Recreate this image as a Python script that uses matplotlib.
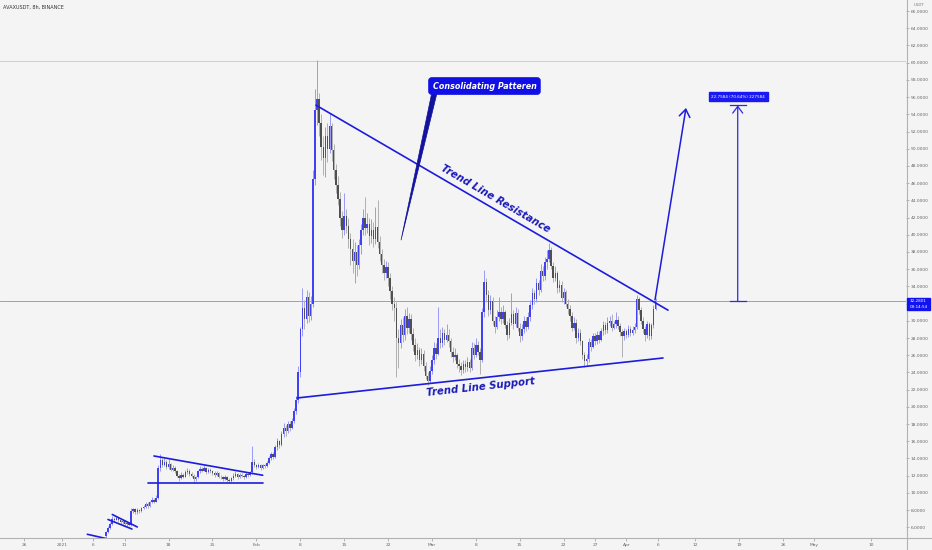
import matplotlib
matplotlib.use('Agg')
import matplotlib.pyplot as plt
from matplotlib.lines import Line2D
from matplotlib.patches import Polygon, Rectangle
import numpy as np

# ---------------- data ----------------
title = "AVAXUSDT, 8h, BINANCE"
first_day = 7.0          # days since 2021-01-01 of the first 8h candle
bar_days = 1 / 3
first_open = 5.0

closes = [
    5.4, 5.9, 6.4, 7.0, 6.9, 7.1, 6.8, 6.6, 6.7, 6.4,
    6.5, 6.3, 7.9, 8.1, 7.8, 8.0, 7.9, 8.2, 8.4, 8.7,
    8.5, 8.9, 9.2, 9.0, 9.4, 12.9, 13.8, 13.3, 13.6, 13.0,
    13.4, 12.7, 12.9, 12.5, 12.0, 11.7, 12.1, 11.9, 12.4, 12.6,
    12.2, 12.0, 11.6, 11.8, 12.5, 12.8, 12.6, 12.9, 12.4, 12.7,
    12.5, 12.3, 12.1, 12.3, 11.9, 11.8, 11.6, 11.9, 11.5, 11.4,
    11.7, 12.0, 12.2, 11.8, 12.1, 12.0, 11.8, 12.2, 12.1, 12.4,
    13.6, 13.2, 13.0, 13.3, 12.9, 13.2, 13.1, 13.5, 14.0, 14.5,
    14.2, 15.3, 16.0, 15.6, 16.8, 17.6, 17.2, 18.0, 17.6, 18.4,
    19.5, 20.8, 24.0, 29.0, 31.5, 30.2, 32.8, 30.6, 32.0, 46.5,
    54.5, 55.8, 53.0, 50.2, 48.9, 51.5, 50.0, 52.6, 49.8, 47.5,
    45.8, 44.2, 42.0, 40.6, 42.2, 41.0, 39.5, 38.4, 37.0, 38.0,
    36.5, 38.8, 40.5, 42.0, 40.8, 41.3, 39.8, 40.6, 39.5, 40.9,
    39.2, 37.8, 36.5, 35.6, 36.2, 35.0, 33.5, 32.0, 31.5, 28.0,
    27.4, 29.5, 28.3, 30.6, 29.2, 30.2, 28.5, 27.2, 26.0, 26.6,
    25.5, 26.1, 24.8, 23.6, 23.0, 24.2, 25.5, 26.8, 26.2, 28.0,
    27.4, 28.6, 27.8, 28.4, 27.6, 26.4, 25.8, 26.0, 25.0, 24.8,
    24.3, 25.0, 24.6, 25.2, 24.5, 26.8, 26.0, 27.2, 26.4, 25.5,
    31.0, 34.5, 33.0, 31.2, 32.3, 30.0, 29.3, 30.5, 31.0, 30.2,
    31.0, 29.5, 28.4, 29.8, 30.8, 29.6, 30.9, 29.2, 28.2, 29.0,
    30.0, 29.3, 30.4, 31.8, 33.2, 32.5, 34.4, 33.6, 35.8, 35.2,
    36.8, 37.2, 38.2, 36.4, 35.0, 35.6, 33.8, 34.2, 32.6, 33.3,
    32.0, 31.4, 30.6, 29.2, 29.8, 28.0, 28.6, 27.6, 26.0, 25.3,
    25.6, 27.5, 27.0, 28.2, 27.6, 28.4, 27.8, 28.8, 29.5, 28.9,
    29.8, 30.0, 29.2, 29.6, 30.1, 29.4, 28.7, 28.2, 28.8, 28.4,
    29.0, 28.6, 28.9, 29.3, 32.5, 31.2, 30.0, 29.0, 28.4, 29.6,
    28.2, 29.5, 31.4, 32.28,
]
highs = [
    5.6, 6.1, 6.6, 7.3, 7.2, 7.3, 7.2, 6.9, 6.9, 6.8,
    6.7, 6.6, 8.2, 8.3, 8.2, 8.2, 8.1, 8.4, 8.6, 8.9,
    8.9, 9.1, 9.5, 9.4, 9.7, 13.3, 14.5, 14.1, 14.0, 13.8,
    13.9, 13.5, 13.2, 13.1, 12.7, 12.2, 12.4, 12.3, 12.7, 12.9,
    12.8, 12.4, 12.2, 12.0, 12.7, 13.1, 13.0, 13.2, 13.0, 12.9,
    12.9, 12.7, 12.5, 12.5, 12.4, 12.1, 12.0, 12.1, 12.0, 11.7,
    11.9, 12.3, 12.5, 12.3, 12.3, 12.3, 12.1, 12.4, 12.4, 12.6,
    15.4, 13.9, 13.4, 13.5, 13.4, 13.4, 13.4, 13.7, 14.3, 14.8,
    14.8, 15.6, 16.4, 16.2, 17.2, 18.1, 17.9, 18.4, 18.3, 18.7,
    19.9, 21.3, 24.8, 29.3, 33.8, 32.4, 33.6, 33.4, 32.9, 47.5,
    57.0, 60.3, 56.5, 54.0, 51.5, 52.5, 53.0, 54.1, 53.0, 50.5,
    48.2, 46.8, 45.0, 42.8, 44.8, 43.0, 42.0, 40.2, 39.5, 39.2,
    38.8, 39.5, 41.2, 43.0, 44.4, 42.5, 42.0, 41.8, 41.5, 43.2,
    44.0, 39.8, 38.4, 37.2, 37.0, 36.8, 35.5, 34.0, 32.8, 32.2,
    29.0, 30.2, 30.5, 31.4, 31.6, 30.9, 30.8, 29.2, 28.0, 27.4,
    27.0, 26.8, 26.6, 25.2, 24.0, 24.8, 26.0, 27.5, 27.4, 31.6,
    29.0, 29.3, 29.0, 29.6, 29.0, 28.0, 27.0, 26.8, 26.3, 25.6,
    25.2, 25.5, 25.4, 25.8, 25.6, 27.5, 27.4, 28.0, 27.6, 26.8,
    31.5, 35.9, 35.0, 33.6, 33.0, 32.8, 30.6, 31.2, 32.8, 31.6,
    31.8, 31.3, 30.0, 30.3, 33.2, 31.2, 31.6, 31.4, 29.8, 29.6,
    30.6, 30.4, 31.0, 32.4, 33.8, 33.6, 35.0, 34.8, 36.6, 36.4,
    37.4, 38.2, 39.0, 38.6, 36.8, 36.4, 35.8, 34.8, 34.6, 33.8,
    33.6, 32.5, 31.8, 31.0, 30.4, 30.2, 29.2, 29.0, 27.8, 26.4,
    26.2, 28.0, 27.9, 28.6, 28.6, 28.8, 28.8, 29.2, 30.0, 29.9,
    30.4, 30.6, 30.8, 30.0, 31.0, 30.6, 29.8, 29.0, 29.2, 29.1,
    29.5, 29.4, 29.4, 29.8, 33.0, 32.8, 31.6, 30.4, 29.4, 30.0,
    29.9, 29.8, 31.8, 32.6,
]
lows = [
    4.8, 5.3, 5.8, 6.3, 6.6, 6.8, 6.6, 6.4, 6.4, 6.2,
    6.2, 6.1, 6.2, 7.7, 7.6, 7.6, 7.7, 7.8, 8.1, 8.3,
    8.3, 8.4, 8.8, 8.8, 8.9, 9.3, 12.6, 13.0, 13.1, 12.8,
    12.8, 12.5, 12.5, 12.3, 11.8, 11.4, 11.6, 11.7, 11.8, 12.2,
    12.0, 11.8, 11.2, 11.4, 11.7, 12.3, 12.4, 12.5, 12.2, 12.3,
    12.3, 12.1, 11.9, 12.0, 11.7, 11.6, 11.4, 11.5, 11.3, 11.1,
    11.3, 11.5, 11.9, 11.6, 11.7, 11.8, 11.6, 11.7, 11.9, 12.0,
    12.2, 13.0, 12.8, 12.9, 12.7, 12.8, 12.9, 13.0, 13.4, 13.8,
    13.9, 14.0, 15.0, 15.2, 15.4, 16.5, 16.6, 17.0, 17.2, 17.4,
    18.1, 19.2, 20.5, 23.5, 28.2, 29.0, 29.8, 29.9, 30.1, 31.6,
    45.8, 52.8, 51.5, 48.7, 47.0, 46.7, 48.5, 49.5, 48.6, 46.5,
    44.8, 43.5, 41.0, 39.6, 40.0, 40.2, 38.5, 36.5, 35.5, 34.4,
    35.2, 36.0, 37.8, 40.0, 40.0, 40.2, 38.8, 39.0, 38.6, 38.9,
    38.5, 37.0, 35.5, 34.8, 35.0, 34.0, 32.5, 31.2, 30.0, 23.5,
    24.5, 26.8, 27.5, 27.8, 28.5, 28.6, 27.8, 26.5, 25.3, 25.6,
    24.8, 25.0, 24.2, 23.2, 22.5, 22.8, 23.8, 25.0, 25.6, 26.0,
    26.8, 27.0, 27.2, 27.5, 27.0, 25.8, 25.2, 25.4, 24.5, 24.0,
    23.7, 23.9, 24.1, 24.2, 24.0, 24.3, 25.6, 25.8, 26.0, 23.8,
    25.2, 30.5, 32.2, 30.6, 30.8, 29.5, 28.6, 29.0, 30.0, 29.6,
    29.8, 29.2, 27.8, 28.0, 29.5, 29.0, 29.3, 28.8, 27.5, 27.8,
    28.6, 28.8, 29.0, 30.0, 31.4, 32.0, 32.2, 33.0, 33.4, 34.6,
    34.8, 36.0, 36.8, 36.0, 34.5, 34.6, 33.2, 33.4, 32.2, 32.0,
    31.6, 30.8, 30.0, 28.8, 28.9, 27.4, 27.6, 27.2, 25.6, 24.6,
    24.8, 25.2, 26.5, 26.8, 27.2, 27.3, 27.4, 27.6, 28.4, 28.5,
    28.6, 29.4, 28.8, 29.0, 29.2, 29.0, 28.2, 25.8, 27.8, 28.0,
    28.1, 28.2, 28.3, 28.6, 29.0, 30.8, 29.6, 28.6, 27.6, 28.0,
    27.8, 27.9, 29.2, 31.2,
]

tick_days = [-6, 0, 5, 10, 17, 24, 31, 38, 45, 52, 59, 66, 73, 80, 85,
             90, 95, 101, 108, 115, 120, 129]
tick_labels = ['26', '2021', '6', '11', '18', '25', 'Feb', '8', '15', '22',
               'Mar', '8', '15', '22', '27', 'Apr', '6', '12', '19', '26',
               'May', '10']
price_ticks = [6, 8, 10, 12, 14, 16, 18, 20, 22, 24, 26, 28, 30, 32, 34, 36,
               38, 40, 42, 44, 46, 48, 50, 52, 54, 56, 58, 60, 62, 64, 66]

# drawings (day, price)
resistance_days, resistance_prices = [40.51, 96.65], [55.06, 31.24]
support_days, support_prices = [37.48, 95.85], [21.03, 25.68]
tri_upper_days, tri_upper_prices = [14.67, 32.01], [14.29, 12.05]
tri_lower_days, tri_lower_prices = [13.72, 32.01], [11.19, 11.19]
flag_upper_days, flag_upper_prices = [8.02, 12.01], [7.49, 6.04]
flag_lower_days, flag_lower_prices = [7.34, 11.16], [6.91, 5.80]
early_days, early_prices = [4.04, 7.13], [5.19, 4.68]
arrow_days, arrow_prices = [94.58, 99.52], [32.43, 54.74]
measure_day = 107.77
measure_from, measure_to = 32.2801, 55.0385
measure_text = "22.7584 (70.64%) 227584"
last_price = 32.2801
last_time = "03:14:54"
peak_level = 60.2
callout_text = "Consolidating Patteren"
callout_day, callout_price = 67.38, 57.29
callout_tail_days = [59.01, 59.85, 54.07]
callout_tail_prices = [56.6, 56.6, 39.37]
res_label_day, res_label_price = 69.06, 44.2
sup_label_day, sup_label_price = 66.83, 22.3

# ---------------- figure ----------------
BG = '#f4f4f4'
W, H, DPI = 932, 550, 100
fig = plt.figure(figsize=(W / DPI, H / DPI), dpi=DPI, facecolor=BG)
ax = fig.add_axes([0, 12 / H, 906 / W, 1 - 12 / H])
ax.set_facecolor(BG)
ax.set_xlim(-9.888, 134.61)
ax.set_ylim(4.758, 67.287)
for s in ax.spines.values():
    s.set_visible(False)

# candles
n = len(closes)
days = first_day + np.arange(n) * bar_days
c = np.array(closes)
o = np.array([first_open] + closes[:-1])
hi = np.array(highs)
lo = np.array(lows)
up = c >= o
UP_BODY, UP_WICK = '#4040f4', '#9a9af8'
DN_BODY, DN_WICK = '#505050', '#b0b0b0'
ax.vlines(days, lo, hi, colors=np.where(up, UP_WICK, DN_WICK), linewidth=0.7, zorder=2)
body_bot = np.minimum(o, c)
body_h = np.maximum(np.abs(c - o), 0.08)
ax.bar(days, body_h, bottom=body_bot, width=0.23,
       color=np.where(up, UP_BODY, DN_BODY), linewidth=0, zorder=3)

# horizontal lines
ax.axhline(peak_level, color='#cdcdcd', lw=0.7, zorder=1)
ax.axhline(last_price, color='#8585ff', lw=0.6, zorder=1)

LINE = '#1c1cdc'
for xs, ys in [(resistance_days, resistance_prices), (support_days, support_prices),
               (tri_upper_days, tri_upper_prices), (tri_lower_days, tri_lower_prices),
               (flag_upper_days, flag_upper_prices), (flag_lower_days, flag_lower_prices),
               (early_days, early_prices)]:
    ax.plot(xs, ys, color=LINE, lw=1.2, solid_capstyle='round', zorder=4)


def angle_of(xs, ys):
    p = ax.transData.transform(np.column_stack([xs, ys]))
    return np.degrees(np.arctan2(p[1, 1] - p[0, 1], p[1, 0] - p[0, 0]))


TXT = '#1b1bb8'
ax.text(res_label_day, res_label_price, 'Trend Line Resistance', color=TXT,
        fontsize=7.3, fontweight='bold', fontstyle='italic',
        rotation=angle_of(resistance_days, resistance_prices),
        rotation_mode='anchor', ha='center', va='center', zorder=5)
ax.text(sup_label_day, sup_label_price, 'Trend Line Support', color=TXT,
        fontsize=7.3, fontweight='bold', fontstyle='italic',
        rotation=angle_of(support_days, support_prices),
        rotation_mode='anchor', ha='center', va='center', zorder=5)

# callout
ax.add_patch(Polygon(np.column_stack([callout_tail_days, callout_tail_prices]),
                     closed=True, color='#12129e', lw=0.5, zorder=5))
ax.text(callout_day, callout_price, callout_text, color='white', fontsize=5.8,
        fontweight='bold', fontstyle='italic', ha='center', va='center', zorder=6,
        bbox=dict(boxstyle='round,pad=0.45,rounding_size=0.35', fc='#1010e6',
                  ec='#1010e6'))

# breakout arrow
ax.annotate('', xy=(arrow_days[1], arrow_prices[1]), xytext=(arrow_days[0], arrow_prices[0]),
            arrowprops=dict(arrowstyle='->,head_length=0.45,head_width=0.32',
                            color=LINE, lw=1.1, mutation_scale=12,
                            shrinkA=0, shrinkB=0), zorder=5)

# measurement
ax.annotate('', xy=(measure_day, measure_to), xytext=(measure_day, measure_from),
            arrowprops=dict(arrowstyle='->,head_length=0.4,head_width=0.3',
                            color='#2a2ae6', lw=0.9, mutation_scale=12,
                            shrinkA=0, shrinkB=0), zorder=5)
for pv in (measure_from, measure_to):
    ax.plot([measure_day - 1.3, measure_day + 1.3], [pv, pv], color='#2a2ae6', lw=0.9, zorder=5)
ax.text(measure_day + 0.1, measure_to + 1.0, measure_text, color='white', fontsize=3.0,
        ha='center', va='center', zorder=6,
        bbox=dict(boxstyle='square,pad=0.55', fc='#1a1af0', ec='#1a1af0'))

# axes ticks
ax.yaxis.tick_right()
ax.set_yticks(price_ticks)
ax.set_yticklabels(['%.4f' % v for v in price_ticks])
ax.set_xticks(tick_days)
ax.set_xticklabels(tick_labels)
ax.tick_params(axis='y', length=2.0, width=0.5, color='#9a9a9a', labelsize=3.2,
               labelcolor='#666666', pad=1.6)
ax.tick_params(axis='x', length=2.0, width=0.5, color='#9a9a9a', labelsize=3.2,
               labelcolor='#666666', pad=1.8)

# frame lines
fig.add_artist(Line2D([906.5 / W, 906.5 / W], [0, 1], transform=fig.transFigure,
                      color='#b2b2b2', lw=0.8))
fig.add_artist(Line2D([0, 1], [12 / H, 12 / H], transform=fig.transFigure,
                      color='#b2b2b2', lw=0.8))

# last price label
yd = ax.transData.transform((0, last_price))[1]
yf = yd / H
fig.add_artist(Rectangle((907 / W, yf - 9 / H), 23 / W, 12.5 / H, transform=fig.transFigure,
                         color='#1212ee', zorder=10))
fig.text(918.5 / W, yf, '%.4f' % last_price, color='white', fontsize=3.0,
         ha='center', va='center', zorder=11)
fig.text(918.5 / W, yf - 6.3 / H, last_time, color='white', fontsize=3.0,
         ha='center', va='center', zorder=11)

fig.text(919 / W, 1 - 5.5 / H, 'USDT', color='#777777', fontsize=2.8, ha='center', va='center')
fig.text(3 / W, 1 - 7 / H, title, color='#333333', fontsize=3.5, ha='left', va='center')

fig.savefig('out.png', dpi=DPI, facecolor=BG)
